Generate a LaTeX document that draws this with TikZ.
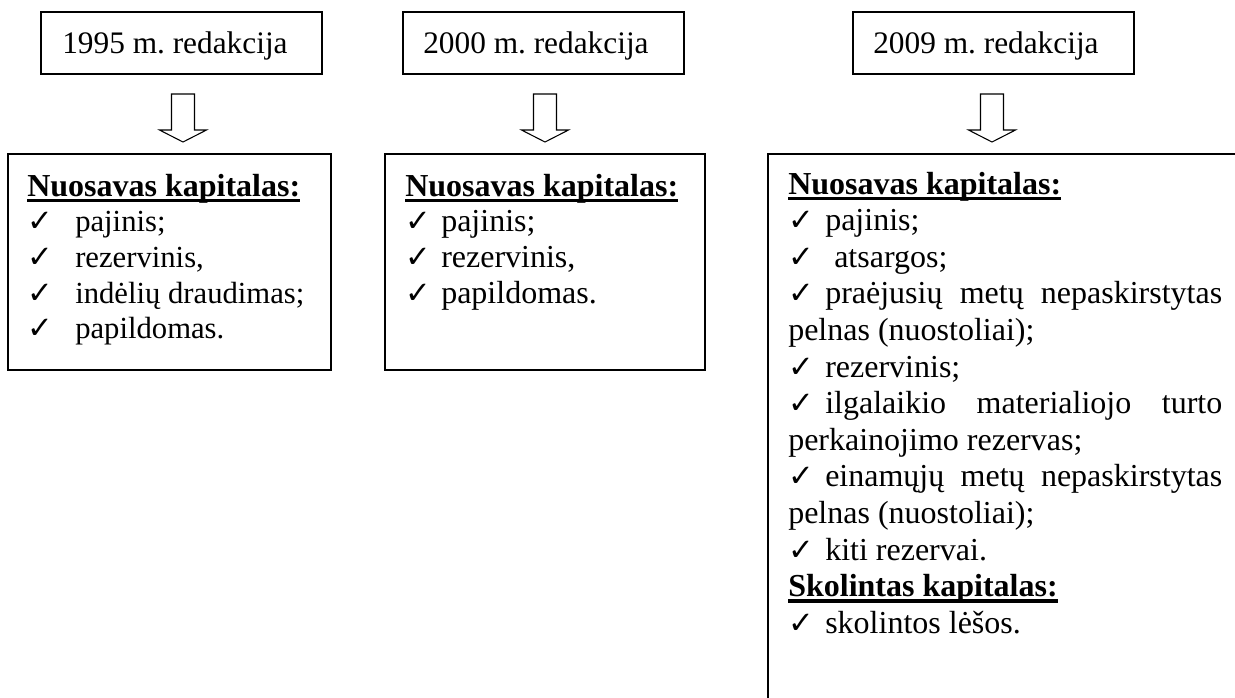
\documentclass[tikz,border=0pt]{standalone}
\usepackage{fontspec}
\usetikzlibrary{calc}
\setmainfont{Liberation Serif}
\newfontfamily\ckfont{DejaVu Sans}
\frenchspacing
\newdimen\pxu \pxu=0.75pt
\newcommand\chk[1]{\makebox[#1\pxu][l]{\ckfont\fontsize{23pt}{23pt}\selectfont ✓}}
\newcommand\hdul[1]{\leavevmode\setbox0\hbox{\bfseries #1}\rlap{\vrule height -2.5\pxu depth 6\pxu width \wd0}\box0}
\newcommand\bodyfontA{\fontsize{24pt}{26.8pt}\selectfont}
\newcommand\itemfontA{\fontsize{23pt}{26.8pt}\selectfont}
\newcommand\bodyfontB{\fontsize{24pt}{27.45pt}\selectfont}
\newcommand\hdfont{\fontsize{23.5pt}{26pt}\selectfont}
\begin{document}
\begin{tikzpicture}[x=0.75pt,y=-0.75pt,
  hdbox/.style={draw, line width=1.2pt, minimum width=210.75pt, minimum height=46.5pt, anchor=north west, inner sep=0pt},
  bodybox/.style={draw, line width=1.2pt, anchor=north west, inner sep=0pt},
  txt/.style={anchor=base west, inner sep=0pt}]
\useasboundingbox (0,0) rectangle (1235,697);
% header boxes
\node[hdbox] (h1) at (40,11) {};
\node[hdbox] (h2) at (402,11) {};
\node[hdbox] (h3) at (852,11) {};
\node[txt, font=\hdfont] (ht1) at (62,53) {1995 m. redakcija};
\node[txt, font=\hdfont] (ht2) at (423,53) {2000 m. redakcija};
\node[txt, font=\hdfont] (ht3) at (873,53) {2009 m. redakcija};
% block arrows
\foreach \n/\xx in {1/183, 2/545, 3/992}{
  \coordinate (a\n) at (\xx,94);
  \draw[line width=0.8pt, line join=miter] ($(a\n)+(-11.5,0)$) -- ++(23,0) -- ++(0,36) -- ++(12,0) -- ++(-23.5,12) -- ++(-23.5,-12) -- ++(12,0) -- cycle;
}
% body boxes
\node[bodybox, minimum width=242.25pt, minimum height=162pt] (b1) at (7,153) {};
\node[bodybox, minimum width=240pt, minimum height=162pt] (b2) at (384,153) {};
\node[bodybox, minimum width=450pt, minimum height=525pt] (b3) at (767,153) {};
% texts
\node[txt] (t1) at (27,196) {\begin{minipage}[t]{300\pxu}\bodyfontA
\hdul{Nuosavas kapitalas:}\par\itemfontA
\chk{48}pajinis;\par
\chk{48}rezervinis,\par
\chk{48}indėlių draudimas;\par
\chk{48}papildomas.
\end{minipage}};
\node[txt] (t2) at (405,196) {\begin{minipage}[t]{290\pxu}\bodyfontA
\hdul{Nuosavas kapitalas:}\par
\chk{36}pajinis;\par
\chk{36}rezervinis,\par
\chk{36}papildomas.
\end{minipage}};
\node[txt] (t3) at (788,194) {\begin{minipage}[t]{434\pxu}\bodyfontB
\hdul{Nuosavas kapitalas:}\par
\chk{37}pajinis;\par
\chk{46}atsargos;\par
\hbox to\linewidth{\chk{37}praėjusių\hfill metų\hfill nepaskirstytas}\par
pelnas (nuostoliai);\par
\chk{37}rezervinis;\par
\hbox to\linewidth{\chk{37}ilgalaikio\hfill materialiojo\hfill turto}\par
perkainojimo rezervas;\par
\hbox to\linewidth{\chk{37}einamųjų\hfill metų\hfill nepaskirstytas}\par
pelnas (nuostoliai);\par
\chk{37}kiti rezervai.\par
\hdul{Skolintas kapitalas:}\par
\chk{37}skolintos lėšos.
\end{minipage}};
\end{tikzpicture}
\end{document}
